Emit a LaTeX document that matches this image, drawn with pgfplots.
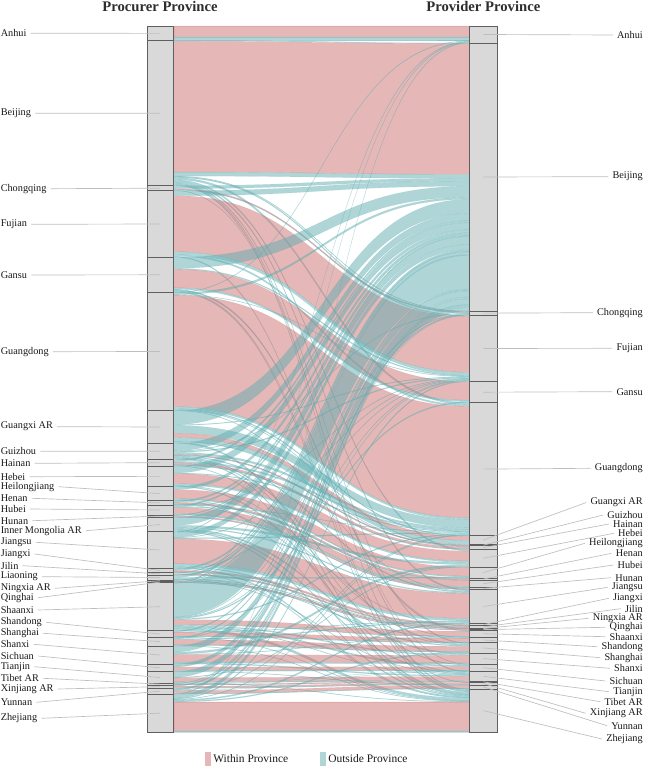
\documentclass[border=0pt]{standalone}
\usepackage{fontspec}
\setmainfont{Liberation Serif}
\usepackage{pgfplots}
\pgfplotsset{compat=1.18}
\usepackage{pgfplotstable}

\definecolor{withinc}{RGB}{205,112,112}
\definecolor{outsidec}{RGB}{95,172,176}
\definecolor{stratumfill}{RGB}{217,217,217}
\definecolor{stratumedge}{RGB}{95,95,95}
\definecolor{leadercol}{RGB}{190,190,190}
\definecolor{labeltext}{RGB}{25,25,25}
\definecolor{titletext}{RGB}{45,45,45}

% procurer -> provider flows, kind W = within province, O = outside province
\pgfplotstableread{
from to kind value
Anhui Anhui W 11
Anhui Anhui O 3.2
Anhui Beijing O 0.5
Beijing Anhui O 0.6
Beijing Beijing W 130.8
Beijing Beijing O 4
Beijing Chongqing O 0.6
Beijing Fujian O 1
Beijing Guangdong O 2
Beijing Hebei O 1.5
Beijing Jiangsu O 1.5
Beijing Shanghai O 1
Beijing Tianjin O 1
Beijing Zhejiang O 1
Chongqing Beijing O 3
Chongqing Chongqing W 1
Chongqing Chongqing O 0.5
Chongqing Sichuan O 0.5
Fujian Beijing O 5
Fujian Fujian W 56
Fujian Fujian O 3
Fujian Guangdong O 1.6
Fujian Zhejiang O 1
Gansu Beijing O 11
Gansu Fujian O 1
Gansu Gansu W 18.5
Gansu Gansu O 1.5
Gansu Qinghai O 0.5
Gansu Shaanxi O 1
Gansu Xinjiang O 0.5
Gansu Zhejiang O 1
Guangdong Anhui O 0.5
Guangdong Beijing O 2
Guangdong Fujian O 0.4
Guangdong Guangdong W 111.5
Guangdong Guangdong O 2
Guangdong Guangxi O 1
Guangdong Hainan O 0.5
Guangdong Jiangsu O 0.5
Guangxi Beijing O 14
Guangxi Fujian O 0.6
Guangxi Guangdong O 8
Guangxi Guangxi W 4
Guangxi Guangxi O 4
Guangxi Hainan O 0.5
Guangxi Zhejiang O 1.5
Guizhou Beijing O 7.5
Guizhou Chongqing O 0.5
Guizhou Fujian O 1
Guizhou Guangdong O 2
Guizhou Guizhou W 0.8
Guizhou Guizhou O 0.5
Guizhou Jiangsu O 1
Guizhou Shanghai O 1
Guizhou Sichuan O 0.7
Guizhou Zhejiang O 1
Hainan Beijing O 2
Hainan Guangdong O 1.5
Hainan Hainan W 2
Hainan Hainan O 0.7
Hainan Zhejiang O 0.5
Hebei Beijing O 7
Hebei Guangdong O 0.7
Hebei Hebei W 10
Hebei Hebei O 1.5
Hebei Shandong O 0.5
Hebei Tianjin O 1
Heilongjiang Beijing O 3
Heilongjiang Heilongjiang W 9
Heilongjiang Heilongjiang O 1
Heilongjiang Jilin O 0.5
Heilongjiang Zhejiang O 0.5
Henan Beijing O 1.5
Henan Henan W 1.5
Henan Henan O 0.5
Henan Hubei O 0.3
Henan Shanghai O 0.5
Hubei Beijing O 1.5
Hubei Fujian O 0.5
Hubei Guangdong O 0.5
Hubei Hubei W 6
Hubei Hubei O 1
Hubei Hunan O 0.5
Hunan Beijing O 0.8
Hunan Hunan W 1.2
Hunan Hunan O 0.3
InnerMongolia Beijing O 8
InnerMongolia Hebei O 2
InnerMongolia Jiangsu O 1
InnerMongolia Shanxi O 1.4
InnerMongolia Tianjin O 1
InnerMongolia Zhejiang O 1
Jiangsu Anhui O 0.6
Jiangsu Beijing O 5
Jiangsu Fujian O 0.5
Jiangsu Guangdong O 1
Jiangsu Jiangsu W 25
Jiangsu Jiangsu O 2.5
Jiangsu Shanghai O 1
Jiangsu Zhejiang O 1
Jiangxi Beijing O 1.5
Jiangxi Fujian O 0.5
Jiangxi Jiangxi W 1.5
Jiangxi Jiangxi O 0.4
Jiangxi Zhejiang O 0.5
Jilin Beijing O 0.8
Jilin Jilin W 1.2
Jilin Jilin O 0.3
Liaoning Beijing O 2.5
Liaoning Heilongjiang O 1
Liaoning Jilin O 0.5
Liaoning Shandong O 0.5
Liaoning Tianjin O 0.5
Ningxia Beijing O 0.6
Ningxia Ningxia W 0.7
Ningxia Ningxia O 0.2
Qinghai Beijing O 0.5
Qinghai Qinghai W 0.5
Qinghai Qinghai O 0.2
Shaanxi Anhui O 0.5
Shaanxi Beijing O 33.5
Shaanxi Chongqing O 0.5
Shaanxi Fujian O 0.5
Shaanxi Gansu O 1
Shaanxi Guangdong O 1
Shaanxi Shaanxi W 5
Shaanxi Shaanxi O 0.5
Shaanxi Shanxi O 1
Shaanxi Sichuan O 1.5
Shaanxi Tianjin O 0.5
Shaanxi Zhejiang O 2.5
Shandong Beijing O 1
Shandong Jiangsu O 0.5
Shandong Shandong W 4
Shandong Shandong O 0.6
Shandong Zhejiang O 0.5
Shanghai Beijing O 1
Shanghai Fujian O 0.4
Shanghai Jiangsu O 1
Shanghai Shanghai W 5.1
Shanghai Shanghai O 0.7
Shanghai Zhejiang O 0.5
Shanxi Beijing O 6
Shanxi Hebei O 2
Shanxi Shaanxi O 0.5
Shanxi Shanxi W 7.5
Shanxi Shanxi O 1
Shanxi Tianjin O 1
Sichuan Beijing O 2
Sichuan Chongqing O 1
Sichuan Sichuan W 3.5
Sichuan Sichuan O 0.7
Sichuan Yunnan O 0.5
Tianjin Beijing O 5.5
Tianjin Hebei O 0.6
Tianjin Tianjin W 4
Tianjin Tianjin O 1
Tianjin Zhejiang O 0.5
Tibet Beijing O 0.5
Tibet Sichuan O 0.2
Tibet Tibet W 0.8
Tibet Tibet O 0.2
Xinjiang Beijing O 1.2
Xinjiang Xinjiang W 1.5
Xinjiang Xinjiang O 0.6
Yunnan Beijing O 1.3
Yunnan Chongqing O 0.2
Yunnan Guangdong O 0.5
Yunnan Sichuan O 0.2
Yunnan Yunnan W 3
Yunnan Yunnan O 0.5
Zhejiang Anhui O 0.6
Zhejiang Beijing O 3.5
Zhejiang Fujian O 1
Zhejiang Guangdong O 0.5
Zhejiang Jiangsu O 1.3
Zhejiang Shanghai O 1
Zhejiang Zhejiang W 28.9
Zhejiang Zhejiang O 1.5
}\flows

\def\provinces{Anhui,Beijing,Chongqing,Fujian,Gansu,Guangdong,Guangxi,Guizhou,Hainan,Hebei,Heilongjiang,Henan,Hubei,Hunan,InnerMongolia,Jiangsu,Jiangxi,Jilin,Liaoning,Ningxia,Qinghai,Shaanxi,Shandong,Shanghai,Shanxi,Sichuan,Tianjin,Tibet,Xinjiang,Yunnan,Zhejiang}

% x positions of the two strata columns and of the ribbon ends
\def\xL{173.7}\def\xR{469.3}\def\xM{321.5}

% totals leaving each procurer and reaching each provider
\foreach \p in \provinces{%
  \expandafter\xdef\csname out@\p\endcsname{0}%
  \expandafter\xdef\csname in@\p\endcsname{0}}
\pgfplotstablegetrowsof{\flows}
\pgfmathtruncatemacro\lastrow{\pgfplotsretval-1}
\foreach \i in {0,...,\lastrow}{%
  \pgfplotstablegetelem{\i}{from}\of\flows \edef\src{\pgfplotsretval}%
  \pgfplotstablegetelem{\i}{to}\of\flows \edef\dst{\pgfplotsretval}%
  \pgfplotstablegetelem{\i}{value}\of\flows \edef\val{\pgfplotsretval}%
  \edef\tmpa{\csname out@\src\endcsname}%
  \pgfmathsetmacro\tmpb{\tmpa+\val}%
  \expandafter\xdef\csname out@\src\endcsname{\tmpb}%
  \edef\tmpa{\csname in@\dst\endcsname}%
  \pgfmathsetmacro\tmpb{\tmpa+\val}%
  \expandafter\xdef\csname in@\dst\endcsname{\tmpb}%
}

% stack the strata from the top
\gdef\runL{26}\gdef\runR{26}
\gdef\stratapaths{}
\foreach \p in \provinces{%
  \edef\tmpa{\csname out@\p\endcsname}%
  \pgfmathsetmacro\tmpb{\runL+\tmpa}%
  \expandafter\xdef\csname ltop@\p\endcsname{\runL}%
  \expandafter\xdef\csname lbot@\p\endcsname{\tmpb}%
  \expandafter\xdef\csname lcur@\p\endcsname{\runL}%
  \ifdim\tmpa pt>0pt
    \xdef\stratapaths{\unexpanded\expandafter{\stratapaths}\noexpand\stratum{147}{173.7}{\runL}{\tmpb}}%
  \fi
  \xdef\runL{\tmpb}%
  \edef\tmpa{\csname in@\p\endcsname}%
  \pgfmathsetmacro\tmpb{\runR+\tmpa}%
  \expandafter\xdef\csname rtop@\p\endcsname{\runR}%
  \expandafter\xdef\csname rbot@\p\endcsname{\tmpb}%
  \expandafter\xdef\csname rcur@\p\endcsname{\runR}%
  \ifdim\tmpa pt>0pt
    \xdef\stratapaths{\unexpanded\expandafter{\stratapaths}\noexpand\stratum{469.3}{497.3}{\runR}{\tmpb}}%
  \fi
  \xdef\runR{\tmpb}%
}

% ribbons: lodes stacked by the opposite stratum within each stratum
\gdef\flowpaths{}
\def\kindW{W}
\foreach \i in {0,...,\lastrow}{%
  \pgfplotstablegetelem{\i}{from}\of\flows \edef\src{\pgfplotsretval}%
  \pgfplotstablegetelem{\i}{to}\of\flows \edef\dst{\pgfplotsretval}%
  \pgfplotstablegetelem{\i}{kind}\of\flows \edef\kind{\pgfplotsretval}%
  \pgfplotstablegetelem{\i}{value}\of\flows \edef\val{\pgfplotsretval}%
  \edef\ya{\csname lcur@\src\endcsname}%
  \pgfmathsetmacro\yb{\ya+\val}%
  \expandafter\xdef\csname lcur@\src\endcsname{\yb}%
  \edef\za{\csname rcur@\dst\endcsname}%
  \pgfmathsetmacro\zb{\za+\val}%
  \expandafter\xdef\csname rcur@\dst\endcsname{\zb}%
  \ifx\kind\kindW\def\col{withinc}\else\def\col{outsidec}\fi
  \xdef\flowpaths{\unexpanded\expandafter{\flowpaths}\noexpand\ribbon{\col}{\ya}{\yb}{\za}{\zb}}%
}

\newcommand\ribbon[5]{%
  \fill[#1, fill opacity=0.5, draw=#1, draw opacity=0.2, line width=0.25pt]
    (axis cs:\xL,#2) .. controls (axis cs:\xM,#2) and (axis cs:\xM,#4) .. (axis cs:\xR,#4)
    -- (axis cs:\xR,#5) .. controls (axis cs:\xM,#5) and (axis cs:\xM,#3) .. (axis cs:\xL,#3) -- cycle;}
\newcommand\stratum[4]{%
  \draw[stratumedge, fill=stratumfill, line width=0.6pt] (axis cs:#1,#3) rectangle (axis cs:#2,#4);}

\newcommand\labelfont{\fontsize{7.7}{9}\selectfont}
\newcommand\llabel[3]{%
  \pgfmathsetmacro\cy{(\csname ltop@#1\endcsname+\csname lbot@#1\endcsname)/2}%
  \node[anchor=west, inner xsep=0pt, inner ysep=1pt, font=\labelfont, text=labeltext] (L#1) at (axis cs:0.5,#3) {#2};%
  \edef\temp{\noexpand\draw[leadercol, line width=0.5pt] ([xshift=3pt]L#1.east) -- (axis cs:160,\cy);}\temp}
\newcommand\rlabel[3]{%
  \pgfmathsetmacro\cy{(\csname rtop@#1\endcsname+\csname rbot@#1\endcsname)/2}%
  \node[anchor=east, inner xsep=0pt, inner ysep=1pt, font=\labelfont, text=labeltext] (R#1) at (axis cs:643,#3) {#2};%
  \edef\temp{\noexpand\draw[leadercol, line width=0.5pt] (axis cs:483.3,\cy) -- ([xshift=-3pt]R#1.west);}\temp}

\begin{document}
\begin{tikzpicture}
\begin{axis}[scale only axis, width=483pt, height=574.5pt,
  xmin=0, xmax=644, ymin=0, ymax=766, y dir=reverse,
  hide axis, clip=false]
\path (axis cs:0,0) rectangle (axis cs:644,766);
\flowpaths
\stratapaths
% procurer labels
\llabel{Anhui}{Anhui}{33.3}
\llabel{Beijing}{Beijing}{113.3}
\llabel{Chongqing}{Chongqing}{188.7}
\llabel{Fujian}{Fujian}{224.3}
\llabel{Gansu}{Gansu}{275}
\llabel{Guangdong}{Guangdong}{351.7}
\llabel{Guangxi}{Guangxi AR}{426.7}
\llabel{Guizhou}{Guizhou}{451.3}
\llabel{Hainan}{Hainan}{463.3}
\llabel{Hebei}{Hebei}{476.7}
\llabel{Heilongjiang}{Heilongjiang}{486.7}
\llabel{Henan}{Henan}{498.3}
\llabel{Hubei}{Hubei}{509}
\llabel{Hunan}{Hunan}{520.7}
\llabel{InnerMongolia}{Inner Mongolia AR}{530.7}
\llabel{Jiangsu}{Jiangsu}{542.3}
\llabel{Jiangxi}{Jiangxi}{554}
\llabel{Jilin}{Jilin}{565.7}
\llabel{Liaoning}{Liaoning}{576.7}
\llabel{Ningxia}{Ningxia AR}{588.3}
\llabel{Qinghai}{Qinghai}{597.7}
\llabel{Shaanxi}{Shaanxi}{610}
\llabel{Shandong}{Shandong}{622.3}
\llabel{Shanghai}{Shanghai}{633.3}
\llabel{Shanxi}{Shanxi}{644.3}
\llabel{Sichuan}{Sichuan}{656}
\llabel{Tianjin}{Tianjin}{666.7}
\llabel{Tibet}{Tibet AR}{678.3}
\llabel{Xinjiang}{Xinjiang AR}{689}
\llabel{Yunnan}{Yunnan}{702.3}
\llabel{Zhejiang}{Zhejiang}{718.3}
% provider labels
\rlabel{Anhui}{Anhui}{35}
\rlabel{Beijing}{Beijing}{176.7}
\rlabel{Chongqing}{Chongqing}{312.7}
\rlabel{Fujian}{Fujian}{348.3}
\rlabel{Gansu}{Gansu}{391.7}
\rlabel{Guangdong}{Guangdong}{468.3}
\rlabel{Guangxi}{Guangxi AR}{502.5}
\rlabel{Guizhou}{Guizhou}{515}
\rlabel{Hainan}{Hainan}{524}
\rlabel{Hebei}{Hebei}{533.3}
\rlabel{Heilongjiang}{Heilongjiang}{543.3}
\rlabel{Henan}{Henan}{553.3}
\rlabel{Hubei}{Hubei}{565}
\rlabel{Hunan}{Hunan}{577.7}
\rlabel{Jiangsu}{Jiangsu}{587.3}
\rlabel{Jiangxi}{Jiangxi}{598.3}
\rlabel{Jilin}{Jilin}{608.7}
\rlabel{Ningxia}{Ningxia AR}{618.3}
\rlabel{Qinghai}{Qinghai}{627.3}
\rlabel{Shaanxi}{Shaanxi}{636.7}
\rlabel{Shandong}{Shandong}{646.7}
\rlabel{Shanghai}{Shanghai}{657.7}
\rlabel{Shanxi}{Shanxi}{668.3}
\rlabel{Sichuan}{Sichuan}{681}
\rlabel{Tianjin}{Tianjin}{691.7}
\rlabel{Tibet}{Tibet AR}{701.7}
\rlabel{Xinjiang}{Xinjiang AR}{713.3}
\rlabel{Yunnan}{Yunnan}{725.7}
\rlabel{Zhejiang}{Zhejiang}{739}
% column titles
\node[inner sep=0pt, font=\fontsize{11}{12}\selectfont\bfseries, text=titletext] at (axis cs:160,6.5) {Procurer Province};
\node[inner sep=0pt, font=\fontsize{11}{12}\selectfont\bfseries, text=titletext] at (axis cs:483.3,6.5) {Provider Province};
% legend
\fill[withinc, fill opacity=0.5] (axis cs:205,751.5) rectangle (axis cs:211,766);
\node[anchor=west, inner sep=0pt, font=\fontsize{8.6}{10}\selectfont, text=labeltext] at (axis cs:213,759) {Within Province};
\fill[outsidec, fill opacity=0.5] (axis cs:320,751.5) rectangle (axis cs:326,766);
\node[anchor=west, inner sep=0pt, font=\fontsize{8.6}{10}\selectfont, text=labeltext] at (axis cs:328,759) {Outside Province};
\end{axis}
\end{tikzpicture}
\end{document}
